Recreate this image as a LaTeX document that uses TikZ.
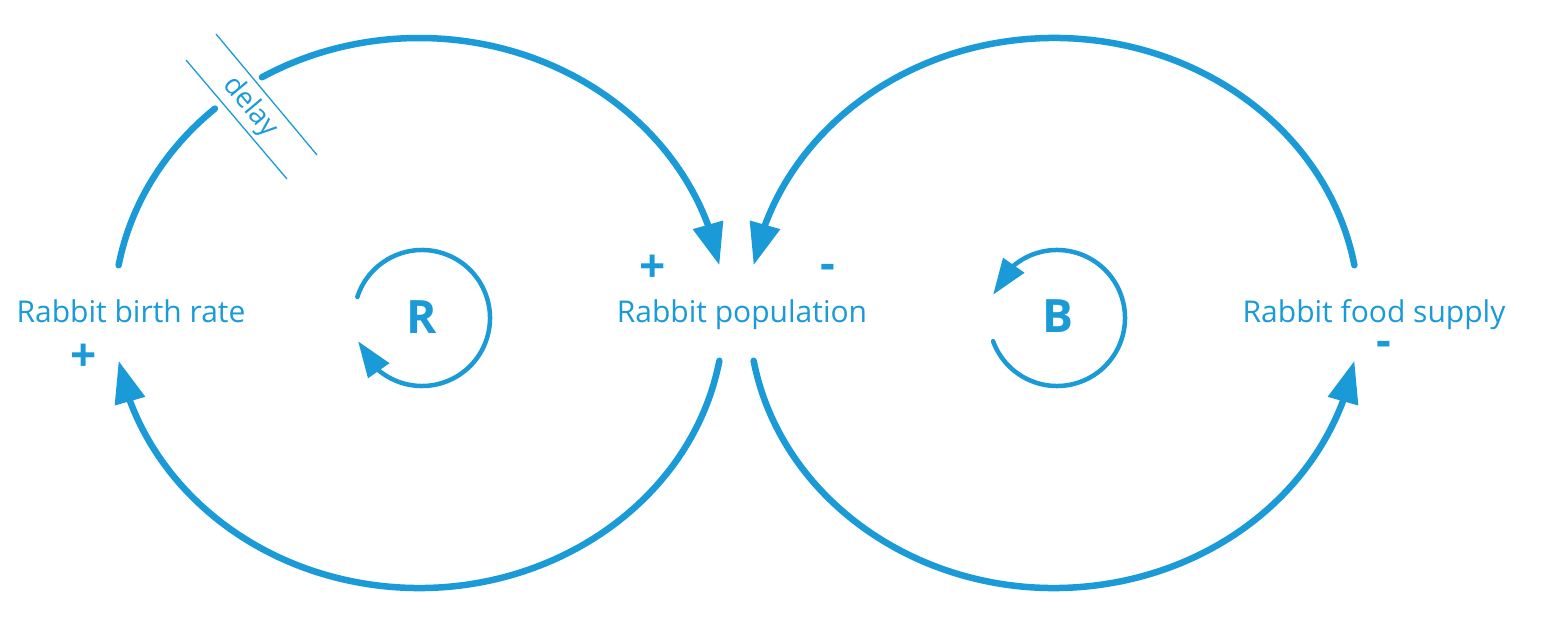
\documentclass[tikz,border=0pt]{standalone}
\usepackage{fontspec}
\setmainfont{Open Sans}
\usetikzlibrary{arrows.meta,bending,calc}
\definecolor{cldblue}{HTML}{1A9AD6}

\begin{document}
\begin{tikzpicture}[x=1pt,y=1pt,
    link/.style={cldblue,line width=6.5pt,line cap=round},
    tip/.style={-{Triangle[length=42pt,width=30pt]}},
    looparrow/.style={cldblue,line width=4.5pt,line cap=round,-{Triangle[length=36pt,width=25pt]}},
    var/.style={text=cldblue,font=\fontsize{30}{36}\selectfont,inner sep=0pt,anchor=base},
    sign/.style={text=cldblue,font=\fontsize{46}{50}\selectfont\bfseries,inner sep=0pt},
    looplabel/.style={text=cldblue,font=\fontsize{46}{50}\selectfont\bfseries,inner sep=0pt,anchor=base}]
    \useasboundingbox (0,0) rectangle (1541,-620);
    % centros de los dos bucles grandes
    \coordinate (lc) at (419,-313);
    \coordinate (rc) at (1054,-313);
    % variables
    \node[var] (birth) at (131,-322) {Rabbit birth rate};
    \node[var] (pop) at (742,-322) {Rabbit population};
    \node[var] (food) at (1374,-322) {Rabbit food supply};
    % birth rate -> population, con retardo
    \draw[link] ($(lc)+(170:305 and 275)$) coordinate (birth-out)
      arc[start angle=170,end angle=132,x radius=305,y radius=275] coordinate (delay-in);
    \draw[link,tip] ($(lc)+(121:305 and 275)$) coordinate (delay-out)
      arc[start angle=121,end angle=10,x radius=305,y radius=275] coordinate (pop-in1);
    \draw[cldblue,line width=1.3pt] (186,-60) -- (287,-179);
    \draw[cldblue,line width=1.3pt] (216,-34) -- (317,-155);
    \node[text=cldblue,font=\fontsize{28}{32}\selectfont,rotate=-50] (delay) at (250,-107) {delay};
    % population -> birth rate
    \draw[link,tip] ($(lc)+(-10:305 and 275)$) coordinate (pop-out1)
      arc[start angle=-10,end angle=-170,x radius=305,y radius=275] coordinate (birth-in);
    % food supply -> population
    \draw[link,tip] ($(rc)+(10:305 and 275)$) coordinate (food-out)
      arc[start angle=10,end angle=170,x radius=305,y radius=275] coordinate (pop-in2);
    % population -> food supply
    \draw[link,tip] ($(rc)+(190:305 and 275)$) coordinate (pop-out2)
      arc[start angle=190,end angle=350,x radius=305,y radius=275] coordinate (food-in);
    % polaridades
    \node[sign] (s1) at (653,-269) {+};
    \node[sign] (s2) at (828,-272) {-};
    \node[sign] (s3) at (84,-358) {+};
    \node[sign] (s4) at (1384,-349) {-};
    % bucles R y B
    \coordinate (rl) at (422,-318);
    \coordinate (bl) at (1057,-318);
    \node[looplabel] (R) at (422,-333) {R};
    \node[looplabel] (B) at (1058,-332) {B};
    \draw[looparrow] ($(rl)+(162:68)$) arc[start angle=162,end angle=-160,radius=68];
    \draw[looparrow] ($(bl)+(-160:68)$) arc[start angle=-160,end angle=160,radius=68];
\end{tikzpicture}
\end{document}
